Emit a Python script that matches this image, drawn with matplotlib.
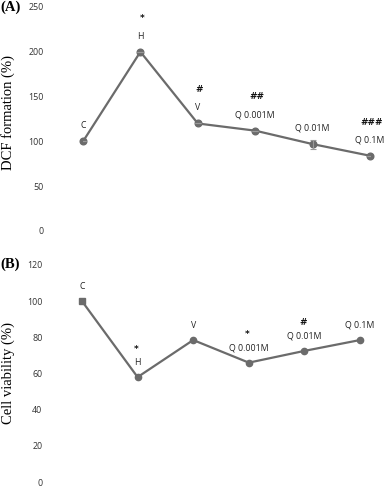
import numpy as np
import matplotlib.pyplot as plt

# panel A: DCF formation
groups = ['C', 'H', 'V', 'Q 0.001M', 'Q 0.01M', 'Q 0.1M']
dcf = [100, 200, 120, 112, 97, 84]
dcf_err = [0, 0, 0, 0, 5, 0]
dcf_sig = ['', '*', '#', '##', '', '###']

# panel B: cell viability
viab = [100, 58, 78.5, 66, 72.5, 78.5]
viab_sig = ['', '*', '', '*', '#', '']

W, H = 387, 487
fig = plt.figure(figsize=(W / 100, H / 100), dpi=100)

def px_axes(x0, x1, y0, y1):
    return fig.add_axes([x0 / W, 1 - y1 / H, (x1 - x0) / W, (y1 - y0) / H])

line_col = '#6b6b6b'
tick_col = '#333333'

def style(ax, ylim, yticks, ylabel):
    ax.set_xlim(0, 5)
    ax.set_ylim(*ylim)
    ax.set_yticks(yticks)
    for s in ax.spines.values():
        s.set_visible(False)
    ax.set_xticks([])
    ax.tick_params(axis='y', length=0, pad=28.5, labelsize=6.4, labelcolor=tick_col)
    for lab in ax.get_yticklabels():
        lab.set_family('Open Sans')
    ax.set_ylabel(ylabel, family='Liberation Serif', fontsize=10.5)
    ax.patch.set_alpha(0)

x = np.arange(len(groups))

# ---- A
axA = px_axes(83, 370, 7, 231)
style(axA, (0, 250), range(0, 251, 50), 'DCF formation (%)')
axA.yaxis.set_label_coords(-(83 - 15) / 287, 0.53)
axA.plot(x, dcf, color=line_col, lw=1.6, marker='o', ms=4.8, clip_on=False)
axA.errorbar(x, dcf, yerr=dcf_err, fmt='none', ecolor='#9a9a9a', elinewidth=0.8,
             capsize=2, capthick=0.8)
for i, g in enumerate(groups):
    axA.annotate(g, (x[i], dcf[i]), xytext=(0, 8), textcoords='offset points',
                 ha='center', va='bottom', fontsize=6.3, family='Open Sans',
                 color='#222222', annotation_clip=False)
    if dcf_sig[i]:
        axA.annotate(dcf_sig[i], (x[i], dcf[i]), xytext=(1, 21), textcoords='offset points',
                     ha='center', va='bottom', fontsize=6.5, fontweight='bold',
                     color='#111111', annotation_clip=False)
fig.text(0 / W, 1 - 1 / H, '(A)', family='Liberation Serif', fontweight='bold',
         fontsize=10.5, ha='left', va='top')

# ---- B
axB = px_axes(82, 360, 265, 482)
style(axB, (0, 120), range(0, 121, 20), 'Cell viability (%)')
axB.yaxis.set_label_coords(-(82 - 15) / 278, 0.5)
axB.plot(x, viab, color=line_col, lw=1.6, clip_on=False)
axB.plot(x[1:], viab[1:], color=line_col, marker='o', ms=4.5, ls='none', clip_on=False)
axB.plot(x[:1], viab[:1], color=line_col, marker='s', ms=4.8, ls='none', clip_on=False)
for i, g in enumerate(groups):
    axB.annotate(g, (x[i], viab[i]), xytext=(0, 7.5), textcoords='offset points',
                 ha='center', va='bottom', fontsize=6.3, family='Open Sans',
                 color='#222222', annotation_clip=False)
    if viab_sig[i]:
        axB.annotate(viab_sig[i], (x[i], viab[i]), xytext=(-1, 17), textcoords='offset points',
                     ha='center', va='bottom', fontsize=6.5, fontweight='bold',
                     color='#111111', annotation_clip=False)
fig.text(0 / W, 1 - 258 / H, '(B)', family='Liberation Serif', fontweight='bold',
         fontsize=10.5, ha='left', va='top')

fig.savefig('out.png', dpi=100)
